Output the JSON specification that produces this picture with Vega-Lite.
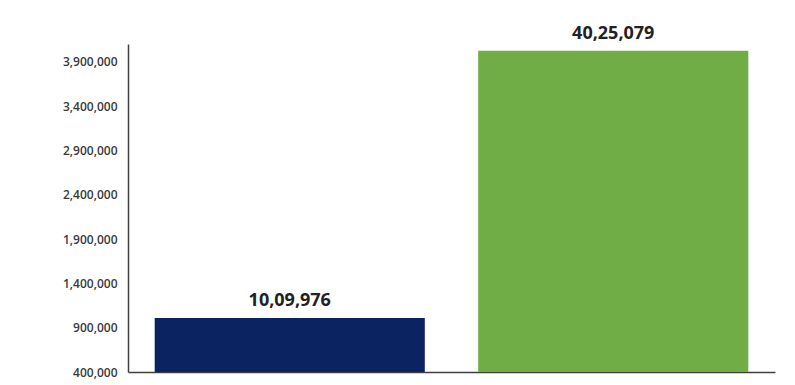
{
  "$schema": "https://vega.github.io/schema/vega-lite/v6.json",
  "autosize": {"type": "none"},
  "width": 647,
  "height": 328,
  "padding": {"left": 128, "top": 44, "right": 20, "bottom": 13},
  "background": "white",
  "config": {"view": {"stroke": null}},
  "data": {"values": [
    {"category": "A", "value": 1009976, "label": "10,09,976"},
    {"category": "B", "value": 4025079, "label": "40,25,079"}
  ]},
  "encoding": {
    "x": {"field": "category", "type": "nominal", "sort": null,
      "scale": {"paddingInner": 0.165, "paddingOuter": 0.0825},
      "axis": {"title": null, "labels": false, "ticks": false, "domainColor": "#404040", "domainWidth": 1.5}},
    "y": {"field": "value", "type": "quantitative",
      "scale": {"domain": [400000, 4100000], "zero": false, "nice": false},
      "axis": {"title": null, "grid": false, "ticks": false, "values": [400000, 900000, 1400000, 1900000, 2400000, 2900000, 3400000, 3900000],
        "format": ",d", "labelFont": "Open Sans", "labelFontSize": 12, "labelFontWeight": 600, "labelColor": "#3a3a3a", "labelPadding": 11,
        "domainColor": "#404040", "domainWidth": 1.5}}
  },
  "layer": [
    {"mark": {"type": "bar"},
     "encoding": {"y2": {"datum": 400000},
       "color": {"field": "category", "type": "nominal", "legend": null,
        "scale": {"domain": ["A", "B"], "range": ["#0b2461", "#70ad47"]}}}},
    {"mark": {"type": "text", "baseline": "bottom", "dy": -8, "font": "Open Sans", "fontSize": 18, "fontWeight": "bold", "color": "#222222"},
     "encoding": {"text": {"field": "label"}}}
  ]
}
